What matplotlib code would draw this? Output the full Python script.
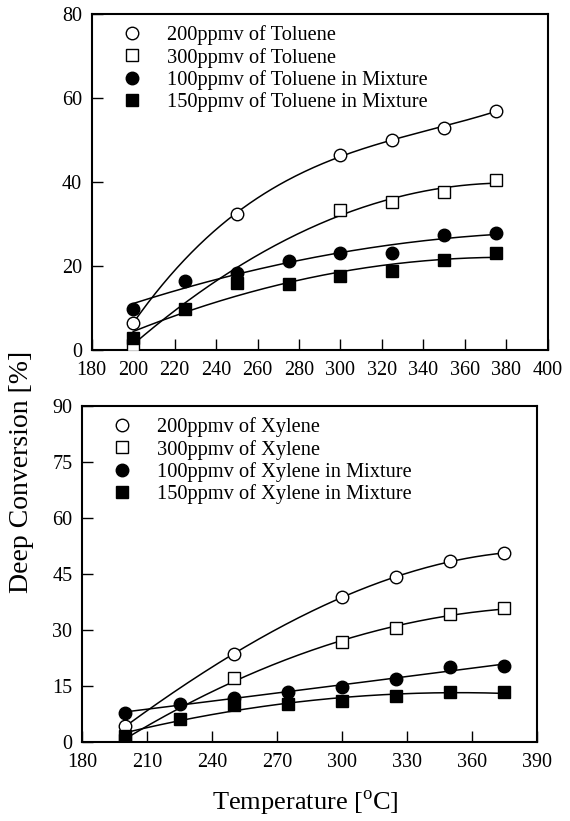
import matplotlib
matplotlib.use("Agg")
import matplotlib.pyplot as plt
import numpy as np

plt.rcParams['font.family'] = ['Liberation Serif', 'DejaVu Serif']
plt.rcParams['mathtext.fontset'] = 'custom'
plt.rcParams['mathtext.rm'] = 'Liberation Serif'

# Toluene panel data
tol_c200_x = [200, 250, 300, 325, 350, 375]
tol_c200_y = [6.5, 32.5, 46.5, 50.0, 53.0, 57.0]
tol_c300_x = [200, 300, 325, 350, 375]
tol_c300_y = [1.2, 33.3, 35.2, 37.7, 40.5]
tol_m100_x = [200, 225, 250, 275, 300, 325, 350, 375]
tol_m100_y = [9.7, 16.5, 18.4, 21.2, 23.0, 23.0, 27.4, 27.9]
tol_m150_x = [200, 225, 250, 275, 300, 325, 350, 375]
tol_m150_y = [2.8, 9.7, 15.9, 15.7, 17.6, 18.8, 21.4, 23.2]

# Xylene panel data
xyl_c200_x = [200, 250, 300, 325, 350, 375]
xyl_c200_y = [4.2, 23.7, 38.8, 44.1, 48.6, 50.6]
xyl_c300_x = [200, 250, 300, 325, 350, 375]
xyl_c300_y = [0.5, 17.2, 26.7, 30.6, 34.2, 35.8]
xyl_m100_x = [200, 225, 250, 275, 300, 325, 350, 375]
xyl_m100_y = [7.9, 10.2, 11.8, 13.4, 14.8, 17.0, 20.1, 20.4]
xyl_m150_x = [200, 225, 250, 275, 300, 325, 350, 375]
xyl_m150_y = [1.6, 6.3, 9.8, 10.3, 10.9, 12.3, 13.4, 13.4]

tol_labels = ['200ppmv of Toluene', '300ppmv of Toluene',
              '100ppmv of Toluene in Mixture', '150ppmv of Toluene in Mixture']
xyl_labels = ['200ppmv of Xylene', '300ppmv of Xylene',
              '100ppmv of Xylene in Mixture', '150ppmv of Xylene in Mixture']

styles = [('o', 'white'), ('s', 'white'), ('o', 'black'), ('s', 'black')]
fit_deg = [3, 2, 2, 2]


def panel(ax, series, labels, xlim, xticks, ylim, yticks):
    handles = []
    for (xs, ys), (mk, fc), deg, lab in zip(series, styles, fit_deg, labels):
        coef = np.polyfit(xs, ys, deg)
        xx = np.linspace(min(xs), max(xs), 200)
        ax.plot(xx, np.polyval(coef, xx), color='black', lw=1.1, zorder=2)
        h, = ax.plot(xs, ys, ls='none', marker=mk, ms=9, mfc=fc, mec='black',
                     mew=1.0, zorder=3, label=lab)
        handles.append(h)
    ax.set_xlim(*xlim)
    ax.set_ylim(*ylim)
    ax.set_xticks(xticks)
    ax.set_yticks(yticks)
    ax.tick_params(direction='in', length=8, width=1, labelsize=14.5,
                   top=False, right=False)
    ax.tick_params(axis='x', pad=8)
    ax.tick_params(axis='y', pad=7)
    for sp in ax.spines.values():
        sp.set_linewidth(1.5)
    ax.legend(handles=handles, loc='upper left', bbox_to_anchor=(0.066, 0.967),
              frameon=False, fontsize=14.7, handlelength=1.0, handletextpad=1.2,
              borderaxespad=0, borderpad=0, labelspacing=0.12)


fig = plt.figure(figsize=(5.7, 8.21), dpi=100)
ax1 = fig.add_axes([0.161, 0.5737, 0.800, 0.409])
ax2 = fig.add_axes([0.144, 0.0962, 0.798, 0.409])

panel(ax1,
      [(tol_c200_x, tol_c200_y), (tol_c300_x, tol_c300_y),
       (tol_m100_x, tol_m100_y), (tol_m150_x, tol_m150_y)],
      tol_labels, (180, 400), range(180, 401, 20), (0, 80), range(0, 81, 20))
panel(ax2,
      [(xyl_c200_x, xyl_c200_y), (xyl_c300_x, xyl_c300_y),
       (xyl_m100_x, xyl_m100_y), (xyl_m150_x, xyl_m150_y)],
      xyl_labels, (180, 390), range(180, 391, 30), (0, 90), range(0, 91, 15))

fig.text(0.038, 1 - 472 / 821, 'Deep Conversion [%]', rotation=90,
         ha='center', va='center', fontsize=20)
fig.text(305 / 570, 1 - 803 / 821, r'Temperature [$^{\rm o}$C]',
         ha='center', va='center', fontsize=19)

fig.savefig('out.png', dpi=100)
